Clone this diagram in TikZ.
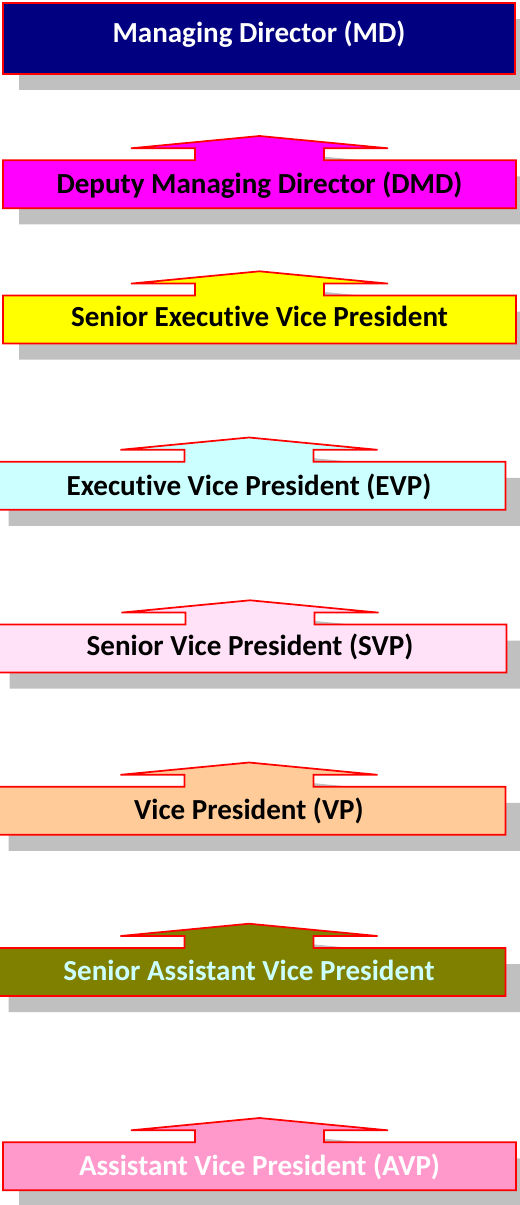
\documentclass[tikz,border=0pt]{standalone}
\usepackage{fontspec}
\setmainfont{Carlito}[Ligatures=NoCommon]
\definecolor{shadowgray}{HTML}{C0C0C0}
\definecolor{mdfill}{HTML}{000080}
\definecolor{dmdfill}{HTML}{FF00FF}
\definecolor{sevpfill}{HTML}{FFFF00}
\definecolor{evpfill}{HTML}{CCFFFF}
\definecolor{svpfill}{HTML}{FFE1F8}
\definecolor{vpfill}{HTML}{FFCC99}
\definecolor{savpfill}{HTML}{808000}
\definecolor{avpfill}{HTML}{FF99CC}
% outline of a rank box with an up-arrow on top: #1 centre x, #2 tip y
\newcommand\rankpath[2]{(#1,#2) -- ++(128.5,12.3) -- ++(-64,0) -- ++(0,12)
  -- ++(192,0) -- ++(0,48) -- ++(-513,0) -- ++(0,-48) -- ++(192,0)
  -- ++(0,-12) -- ++(-64,0) -- cycle}
% shadow, fill and red outline of one rank box: #1 centre x, #2 tip y, #3 fill
\newcommand\rankshape[3]{%
  \fill[shadowgray, shift={(16,16)}] \rankpath{#1}{#2};
  \path[rankline, fill=#3] \rankpath{#1}{#2};}
\begin{document}
\begin{tikzpicture}[x=0.75pt, y=-0.75pt,
  rankline/.style={draw=red, line width=1.3pt, line join=miter},
  ranktext/.style={font=\fontsize{21.8}{24}\selectfont\bfseries, inner sep=0pt, anchor=base}]
\useasboundingbox (0,0) rectangle (519,1205);

% top box
\fill[shadowgray] (19,19) rectangle (531,90);
\path[rankline, fill=mdfill] (3,3) rectangle (515,74);
\node[ranktext, text=white] (md) at (259,42.3) {Managing Director (MD)};

\rankshape{259.5}{136}{dmdfill}
\node[ranktext, text=black] (dmd) at (259.5,194) {Deputy Managing Director (DMD)};

\rankshape{259.5}{271.3}{sevpfill}
\node[ranktext, text=black] (sevp) at (259.5,326.7) {Senior Executive Vice President};

\rankshape{249}{437.5}{evpfill}
\node[ranktext, text=black] (evp) at (249,495) {Executive Vice President (EVP)};

\rankshape{250}{600.3}{svpfill}
\node[ranktext, text=black] (svp) at (250,655.7) {Senior Vice President (SVP)};

\rankshape{249}{762.5}{vpfill}
\node[ranktext, text=black] (vp) at (249,819) {Vice President (VP)};

\rankshape{249}{923.7}{savpfill}
\node[ranktext, text=evpfill] (savp) at (249,980) {Senior Assistant Vice President};

\rankshape{259.5}{1118}{avpfill}
\node[ranktext, text=white] (avp) at (259.5,1175) {Assistant Vice President (AVP)};
\end{tikzpicture}
\end{document}
